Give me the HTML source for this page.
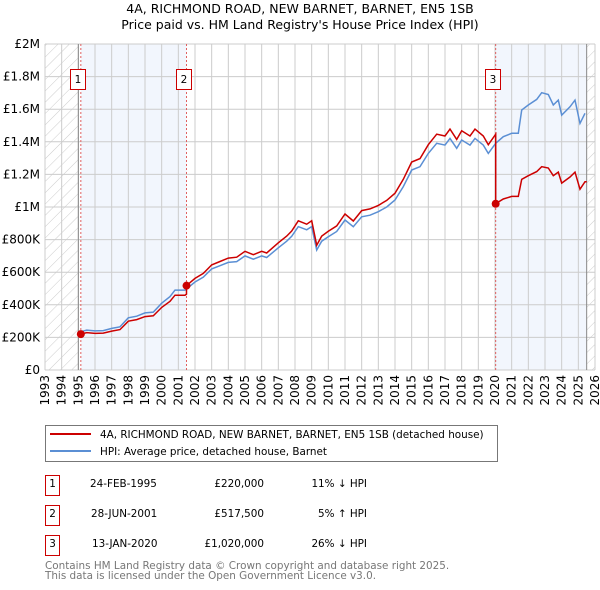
<!DOCTYPE html>
<html><head><meta charset="utf-8"><style>
body{margin:0;background:#fff;font-family:"DejaVu Sans","Liberation Sans",sans-serif;}
#wrap{position:relative;width:600px;height:590px;overflow:hidden;}
</style></head><body><div id="wrap">
<svg id="chart" width="600" height="590" xmlns="http://www.w3.org/2000/svg" font-family="DejaVu Sans, Liberation Sans, sans-serif">
<defs><pattern id="hatch" width="8" height="8" patternUnits="userSpaceOnUse" patternTransform="rotate(45)"><line x1="0" y1="0" x2="0" y2="8" stroke="#ccc" stroke-width="1"/></pattern></defs>
<text x="300" y="13" text-anchor="middle" font-size="12.5" fill="#000">4A, RICHMOND ROAD, NEW BARNET, BARNET, EN5 1SB</text>
<text x="300" y="29" text-anchor="middle" font-size="12.5" fill="#000">Price paid vs. HM Land Registry's House Price Index (HPI)</text>
<g id="bg"></g><g id="grid"></g><g id="lines"></g><g id="axes"></g>
<rect x="45.5" y="425.5" width="452" height="36" fill="#fff" stroke="#777"/>
<line x1="50" y1="434" x2="91" y2="434" stroke="#cc0000" stroke-width="2"/>
<text x="100" y="438" font-size="10.4">4A, RICHMOND ROAD, NEW BARNET, BARNET, EN5 1SB (detached house)</text>
<line x1="50" y1="451" x2="91" y2="451" stroke="#5b8fd4" stroke-width="2"/>
<text x="100" y="455" font-size="10.4">HPI: Average price, detached house, Barnet</text>
<g font-size="10.4">
<rect x="45.5" y="475.5" width="14" height="20" fill="none" stroke="#cc0000"/><text x="52.5" y="487" text-anchor="middle">1</text>
<text x="90" y="487">24-FEB-1995</text><text x="264" y="487" text-anchor="end">£220,000</text><text x="367" y="487" text-anchor="end">11% ↓ HPI</text>
<rect x="45.5" y="505.5" width="14" height="20" fill="none" stroke="#cc0000"/><text x="52.5" y="517" text-anchor="middle">2</text>
<text x="91" y="517">28-JUN-2001</text><text x="264" y="517" text-anchor="end">£517,500</text><text x="367" y="517" text-anchor="end">5% ↑ HPI</text>
<rect x="45.5" y="535.5" width="14" height="20" fill="none" stroke="#cc0000"/><text x="52.5" y="547" text-anchor="middle">3</text>
<text x="92" y="547">13-JAN-2020</text><text x="264" y="547" text-anchor="end">£1,020,000</text><text x="367" y="547" text-anchor="end">26% ↓ HPI</text>
</g>
<text x="45" y="569" font-size="10.4" fill="#777">Contains HM Land Registry data © Crown copyright and database right 2025.</text>
<text x="45" y="579" font-size="10.4" fill="#777">This data is licensed under the Open Government Licence v3.0.</text>
</svg></div>
<script>
const hpiYears=[1995.15,1995.5,1996,1996.5,1997,1997.5,1998,1998.5,1999,1999.5,2000,2000.5,2000.8,2001.4,2002,2002.5,2003,2003.5,2004,2004.5,2005,2005.5,2006,2006.3,2007,2007.5,2007.8,2008.2,2008.7,2009,2009.3,2009.6,2010,2010.5,2011,2011.5,2012,2012.5,2013,2013.5,2014,2014.5,2015,2015.5,2016,2016.5,2017,2017.3,2017.7,2018,2018.5,2018.8,2019.3,2019.6,2020.04,2020.5,2021,2021.4,2021.6,2022,2022.5,2022.8,2023.2,2023.5,2023.8,2024,2024.5,2024.8,2025.1,2025.4];
const hpiValues=[235,245,240,242,255,265,320,330,350,355,410,450,490,490,540,570,620,640,660,665,700,680,700,690,750,790,820,880,860,880,736,790,818,850,920,879,940,950,971,1000,1043,1125,1227,1247,1329,1391,1380,1421,1360,1411,1380,1421,1380,1329,1391,1431,1452,1452,1595,1626,1660,1701,1690,1626,1656,1564,1615,1656,1513,1575];
const saleYears=[1995.15,2001.49,2020.04];
const salePrices=[220,517.5,1020];
const saleLabels=["1","2","3"];
const yTicks=[0,200,400,600,800,1000,1200,1400,1600,1800,2000];
const yTickLabels=["£0","£200K","£400K","£600K","£800K","£1M","£1.2M","£1.4M","£1.6M","£1.8M","£2M"];
const xTicks=[1993,1994,1995,1996,1997,1998,1999,2000,2001,2002,2003,2004,2005,2006,2007,2008,2009,2010,2011,2012,2013,2014,2015,2016,2017,2018,2019,2020,2021,2022,2023,2024,2025,2026];
const X0=45,X1=595,Y0=370,Y1=44,dataEnd=2025.5;
const xs=y=>X0+(y-1993)/33*(X1-X0);
const ys=v=>Y0-v/2000*(Y0-Y1);
const NS="http://www.w3.org/2000/svg";
function mk(tag,attrs,parent,txt){const e=document.createElementNS(NS,tag);for(const k in attrs)e.setAttribute(k,attrs[k]);if(txt!==undefined)e.textContent=txt;document.getElementById(parent).appendChild(e);return e;}
function hpiAt(t){for(let i=0;i<hpiYears.length-1;i++){if(t<=hpiYears[i+1]){const f=(t-hpiYears[i])/(hpiYears[i+1]-hpiYears[i]);return hpiValues[i]+f*(hpiValues[i+1]-hpiValues[i]);}}return hpiValues[hpiValues.length-1];}
let e=mk('rect',{x:X0,y:Y1,width:xs(1995)-X0,height:Y0-Y1,fill:'url(#hatch)'},'bg');


e=mk('rect',{x:xs(dataEnd),y:Y1,width:X1-xs(dataEnd),height:Y0-Y1,fill:'url(#hatch)'},'bg');


e=mk('rect',{x:xs(saleYears[0]),y:Y1,width:xs(saleYears[1])-xs(saleYears[0]),height:Y0-Y1,fill:'#f2f6fd'},'bg');


e=mk('rect',{x:xs(saleYears[2]),y:Y1,width:xs(dataEnd)-xs(saleYears[2]),height:Y0-Y1,fill:'#f2f6fd'},'bg');


xTicks.forEach(t=>{const g=mk('line',{x1:xs(t),x2:xs(t),y1:Y1,y2:Y0,stroke:'#ccc'},'grid');


const l=mk('text',{x:0,y:0,transform:`translate(${xs(t)+4},${Y0+5}) rotate(-90)`,'text-anchor':'end','font-size':12},'axes',String(t));

});
yTicks.forEach((t,i)=>{const g=mk('line',{x1:X0,x2:X1,y1:ys(t),y2:ys(t),stroke:'#ccc'},'grid');


const l=mk('text',{x:40,y:ys(t)+4,'text-anchor':'end','font-size':12},'axes',yTickLabels[i]);

});
e=mk('line',{x1:xs(1995),x2:xs(1995),y1:Y1,y2:Y0,stroke:'#888'},'grid');


e=mk('line',{x1:xs(dataEnd),x2:xs(dataEnd),y1:Y1,y2:Y0,stroke:'#888'},'grid');


saleYears.forEach((s,i)=>{const v=mk('line',{x1:xs(s),x2:xs(s),y1:Y1,y2:Y0,stroke:'#e06060','stroke-dasharray':'2,2'},'grid');


const b=mk('rect',{x:Math.round(xs(s))-10.5,y:69.5,width:15,height:20,fill:'#fff',stroke:'#cc0000'},'axes');


const t=mk('text',{x:Math.round(xs(s))-3,y:83,'text-anchor':'middle','font-size':10.5},'axes',saleLabels[i]);

});
let d='';hpiYears.forEach((y,i)=>{d+=(i?'L':'M')+xs(y).toFixed(1)+','+ys(hpiValues[i]).toFixed(1);});
e=mk('path',{d:d,fill:'none',stroke:'#5b8fd4','stroke-width':1.5},'lines');


let rd='';
for(let k=0;k<saleYears.length;k++){const s=saleYears[k],end=k<saleYears.length-1?saleYears[k+1]:dataEnd;const r=salePrices[k]/hpiAt(s);
const pts=[s].concat(hpiYears.filter(y=>y>s&&y<end)).concat([end]);
pts.forEach((y,j)=>{const v=hpiAt(y)*r;rd+=((k===0&&j===0)?'M':'L')+xs(y).toFixed(1)+','+ys(v).toFixed(1);});}
e=mk('path',{d:rd,fill:'none',stroke:'#cc0000','stroke-width':1.5},'lines');


saleYears.forEach((s,i)=>{const c=mk('circle',{cx:xs(s),cy:ys(salePrices[i]),r:4,fill:'#cc0000'},'lines');

});
</script></body></html>
